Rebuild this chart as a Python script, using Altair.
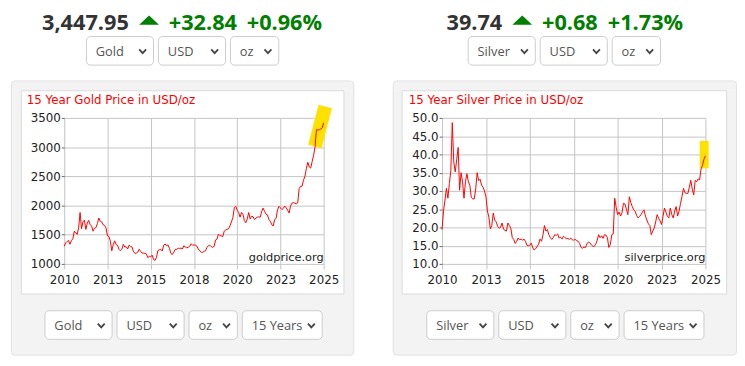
import altair as alt
import pandas as pd

# ------------------------------------------------------------------ data
START_YEAR = 2010
MONTHS_PER_YEAR = 12

# monthly gold price, USD/oz
gold_prices = [
    1300, 1360, 1385, 1400,
    1335, 1400, 1430, 1560, 1530, 1505, 1620, 1880, 1600, 1720, 1750, 1590,
    1700, 1745, 1670, 1650, 1560, 1610, 1620, 1690, 1785, 1730, 1720, 1670,
    1660, 1615, 1480, 1470, 1390, 1225, 1330, 1395, 1330, 1320, 1250, 1225,
    1250, 1335, 1290, 1295, 1255, 1320, 1300, 1290, 1215, 1180, 1185, 1200,
    1250, 1215, 1185, 1185, 1180, 1170, 1107, 1130, 1120, 1150, 1075, 1060,
    1110, 1230, 1240, 1250, 1220, 1320, 1340, 1310, 1325, 1265, 1180, 1160,
    1200, 1250, 1245, 1270, 1265, 1270, 1255, 1310, 1290, 1275, 1285, 1300,
    1345, 1320, 1325, 1320, 1305, 1255, 1225, 1200, 1195, 1215, 1225, 1280,
    1310, 1320, 1295, 1285, 1300, 1410, 1425, 1510, 1485, 1480, 1465, 1560,
    1580, 1590, 1600, 1650, 1720, 1790, 1960, 1985, 1920, 1880, 1800, 1880,
    1850, 1740, 1705, 1770, 1880, 1770, 1815, 1810, 1760, 1785, 1800, 1805,
    1800, 1900, 1955, 1900, 1850, 1840, 1760, 1730, 1670, 1650, 1760, 1780,
    1930, 1985, 1960, 1930, 1950, 1990, 1960, 1920, 1870, 1990, 2040, 2050,
    2040, 2030, 2045, 2290, 2330, 2330, 2433, 2500, 2630, 2740, 2660, 2640,
    2750, 2860, 3000, 3300, 3290, 3300, 3310, 3330, 3416,
]

# monthly silver price, USD/oz
silver_prices = [
    19.4, 24.5, 27.5, 30.7,
    28.0, 32.0, 35.5, 48.7, 38.0, 35.2, 38.5, 41.9, 30.2, 35.0, 32.5, 28.0,
    32.5, 34.7, 32.5, 31.5, 28.2, 27.8, 27.8, 30.5, 35.0, 32.8, 33.2, 31.6,
    31.0, 30.0, 28.4, 24.5, 22.8, 19.6, 20.5, 23.9, 22.0, 21.5, 20.3, 19.8,
    20.0, 21.2, 19.5, 19.2, 19.0, 21.2, 20.5, 19.8, 17.2, 16.7, 15.6, 16.2,
    17.1, 16.6, 16.8, 16.5, 16.8, 16.2, 15.1, 15.0, 15.1, 15.7, 14.4, 13.8,
    14.2, 14.8, 15.4, 16.8, 16.2, 18.0, 20.5, 19.0, 19.4, 18.0, 17.2, 16.7,
    17.2, 18.0, 17.8, 18.2, 17.1, 17.3, 16.8, 17.6, 17.2, 16.9, 17.0, 16.7,
    17.1, 16.6, 16.5, 16.7, 16.4, 16.2, 15.6, 14.5, 14.3, 14.6, 14.5, 15.5,
    16.0, 15.8, 15.2, 14.9, 14.8, 15.4, 16.4, 18.0, 17.2, 17.7, 17.0, 18.0,
    17.9, 17.2, 14.5, 15.3, 18.0, 18.2, 28.0, 25.5, 23.5, 24.2, 23.1, 24.0,
    26.6, 26.4, 25.0, 23.5, 28.4, 26.8, 25.7, 24.8, 24.4, 23.2, 22.6, 23.0,
    23.5, 24.2, 24.8, 23.1, 22.0, 21.0, 20.5, 18.0, 19.0, 19.8, 21.5, 23.5,
    22.5, 21.8, 20.8, 23.0, 25.3, 24.2, 23.0, 22.6, 25.3, 23.5, 22.6, 24.5,
    25.7, 23.1, 24.5, 26.6, 28.5, 30.7, 29.5, 29.3, 29.3, 31.0, 32.9, 30.5,
    28.9, 32.9, 32.5, 33.3, 33.0, 36.0, 37.0, 38.7, 39.6,
]

# highlighted latest stretch
gold_highlight_years = [2024.59, 2024.99]
gold_highlight_prices = [3124, 3580]
silver_highlight_years = [2024.93, 2024.93]
silver_highlight_prices = [37.4, 42.5]

year_ticks = [2010, 2012.5, 2015, 2017.5, 2020, 2022.5, 2025]
gold_ticks = [1000, 1500, 2000, 2500, 3000, 3500]
silver_ticks = [10, 15, 20, 25, 30, 35, 40, 45, 50]

gold_header = ["3,447.95", "+32.84", "+0.96%"]
silver_header = ["39.74", "+0.68", "+1.73%"]
gold_top_selectors = ["Gold", "USD", "oz"]
gold_bottom_selectors = ["Gold", "USD", "oz", "15 Years"]
silver_top_selectors = ["Silver", "USD", "oz"]
silver_bottom_selectors = ["Silver", "USD", "oz", "15 Years"]
gold_title = "15 Year Gold Price in USD/oz"
silver_title = "15 Year Silver Price in USD/oz"
gold_watermark = "goldprice.org"
silver_watermark = "silverprice.org"

# ------------------------------------------------------------------ layout / style
PANEL_FILL = "#f3f3f3"
PANEL_STROKE = "#e2e2e2"
INNER_STROKE = "#dadada"
GRID = "#c4c4c4"
GREEN = "#008000"
DARK = "#333333"
SEL_TEXT = "#555555"
HILITE = "#ffe100"
CHART_FONT = "DejaVu Sans"
PAGE_FONT = "Open Sans"
HEADER_SIZE = 22

gold_layout = dict(
    width=263, height=148,
    panel=(-53.5, 293.5, -37.5, 240.5),
    inner=(-43.5, 283.5, -27.5, 178.5),
    title_x=-38,
    header_x=(-22.5, 86, 106, 185),
    top_boxes=[(22.5, 90.5), (95.5, 163.5), (168.5, 217.5)],
    bottom_boxes=[(-19.5, 48.5), (53.5, 121.5), (126.5, 175.5), (180.5, 261.5)],
    hl_width=14,
    anchor=(-57, -109),
)
silver_layout = dict(
    width=267, height=148,
    panel=(-49.5, 298.5, -37.5, 240.5),
    inner=(-40.5, 288.5, -27.5, 178.5),
    title_x=-33.7,
    header_x=(4.5, 81.3, 101.3, 168),
    top_boxes=[(26.5, 94.5), (99.5, 167.5), (172.5, 221.5)],
    bottom_boxes=[(-15.5, 52.5), (57.5, 125.5), (130.5, 179.5), (184.5, 265.5)],
    hl_width=9,
    anchor=None,
)
HEADER_BASE = -89.3
TRI_Y = -99
TOP_BOX_Y = (-82.5, -53.5)
BOTTOM_BOX_Y = (195.5, 224.5)
TITLE_BASE = -14
WATERMARK_BASE = 144.7
PANEL_GAP = 120

ONE = alt.Data(values=[{"k": 0}])


def rect(x0, x1, y0, y1, **kw):
    return alt.Chart(ONE).mark_rect(**kw).encode(
        x=alt.value(x0), x2=alt.value(x1), y=alt.value(y0), y2=alt.value(y1)
    )


def text(label, x, y, **kw):
    return alt.Chart(ONE).mark_text(text=label, baseline="alphabetic", **kw).encode(
        x=alt.value(x), y=alt.value(y)
    )


def symbol(path, x, y, size, **kw):
    return alt.Chart(ONE).mark_point(shape=path, size=size, opacity=1, **kw).encode(
        x=alt.value(x), y=alt.value(y)
    )


def selector(label, x0, x1, y0, y1):
    cy = (y0 + y1) / 2
    return [
        rect(x0, x1, y0, y1, fill="white", stroke="#cccccc", strokeWidth=1, cornerRadius=4),
        text(label, x0 + 9.5, cy + 5, align="left",
             font=PAGE_FONT, fontSize=13, color=SEL_TEXT),
        symbol("M -1 -0.55 L 0 0.55 L 1 -0.55", x1 - 11, cy + 0.5, 49,
               filled=False, stroke="#444444", strokeWidth=1.8),
    ]


def panel(prices, hl_years, hl_prices, y_domain, y_ticks, y_fmt, header,
          top_sel, bottom_sel, title, watermark, L):
    W, H = L["width"], L["height"]
    ox0, ox1, oy0, oy1 = L["panel"]
    ix0, ix1, iy0, iy1 = L["inner"]
    layers = []
    if L["anchor"] is not None:
        ax, ay = L["anchor"]
        layers.append(rect(ax, ax + 1, ay, ay + 1, fill="white", opacity=0))
    for a, b, c, d in [(ox0, ox1, oy0, iy0), (ox0, ox1, iy1, oy1),
                       (ox0, ix0, iy0, iy1), (ix1, ox1, iy0, iy1)]:
        layers.append(rect(a, b, c, d, fill=PANEL_FILL))
    layers.append(rect(ox0, ox1, oy0, oy1, fill="transparent", stroke=PANEL_STROKE,
                       strokeWidth=1, cornerRadius=4))
    layers.append(rect(ix0, ix1, iy0, iy1, fill="transparent", stroke=INNER_STROKE,
                       strokeWidth=1))
    hx = L["header_x"]
    layers.append(text(header[0], hx[0], HEADER_BASE, align="left", font=PAGE_FONT,
                       fontSize=HEADER_SIZE, fontWeight="bold", color=DARK))
    layers.append(symbol("M -1 0.47 L 0 -0.47 L 1 0.47 Z", hx[1], TRI_Y, 400,
                         filled=True, color=GREEN))
    layers.append(text(header[1], hx[2], HEADER_BASE, align="left", font=PAGE_FONT,
                       fontSize=HEADER_SIZE, fontWeight="bold", color=GREEN))
    layers.append(text(header[2], hx[3], HEADER_BASE, align="left", font=PAGE_FONT,
                       fontSize=HEADER_SIZE, fontWeight="bold", color=GREEN))
    for lab, (a, b) in zip(top_sel, L["top_boxes"]):
        layers += selector(lab, a, b, *TOP_BOX_Y)
    for lab, (a, b) in zip(bottom_sel, L["bottom_boxes"]):
        layers += selector(lab, a, b, *BOTTOM_BOX_Y)
    layers.append(text(title, L["title_x"], TITLE_BASE, align="left", font=CHART_FONT,
                       fontSize=12, color="#ff0000"))
    layers.append(text(watermark, W, WATERMARK_BASE, align="right", font=CHART_FONT,
                       fontSize=11.5, color="#222222"))

    x_scale = alt.Scale(domain=[year_ticks[0], year_ticks[-1]], nice=False, zero=False)
    y_scale = alt.Scale(domain=y_domain, nice=False, zero=False)
    x_axis = alt.Axis(values=year_ticks, labelExpr="format(round(datum.value), 'd')",
                      grid=True, gridColor=GRID, domain=False, tickColor=GRID,
                      tickSize=5, labelFont=CHART_FONT, labelFontSize=12,
                      labelColor="#222222", labelPadding=6, title=None,
                      labelFlush=False, labelOverlap=False)
    y_axis = alt.Axis(values=y_ticks, format=y_fmt, grid=True, gridColor=GRID,
                      domain=False, tickColor="#666666", tickSize=3,
                      labelFont=CHART_FONT, labelFontSize=12, labelColor="#222222",
                      labelPadding=1, title=None, labelFlush=False, labelOverlap=False)

    hl = pd.DataFrame({"year": hl_years, "price": hl_prices})
    layers.append(alt.Chart(hl).mark_line(color=HILITE, strokeWidth=L["hl_width"],
                                          strokeCap="square").encode(
        x=alt.X("year:Q", scale=x_scale, axis=x_axis),
        y=alt.Y("price:Q", scale=y_scale, axis=y_axis)))

    df = pd.DataFrame({
        "year": [START_YEAR + i / MONTHS_PER_YEAR for i in range(len(prices))],
        "price": prices,
    })
    layers.append(alt.Chart(df).mark_line(color="#ff0000", strokeWidth=1).encode(
        x=alt.X("year:Q", scale=x_scale, axis=x_axis),
        y=alt.Y("price:Q", scale=y_scale, axis=y_axis)))

    return alt.layer(*layers).properties(width=W, height=H)


gold = panel(gold_prices, gold_highlight_years, gold_highlight_prices,
             [gold_ticks[0], gold_ticks[-1]], gold_ticks, "d", gold_header,
             gold_top_selectors, gold_bottom_selectors, gold_title, gold_watermark,
             gold_layout)
silver = panel(silver_prices, silver_highlight_years, silver_highlight_prices,
               [silver_ticks[0], silver_ticks[-1]], silver_ticks, ".1f", silver_header,
               silver_top_selectors, silver_bottom_selectors, silver_title,
               silver_watermark, silver_layout)

chart = alt.hconcat(gold, silver, spacing=PANEL_GAP, bounds="flush", padding=0,
                    background="white").configure_view(strokeWidth=0)

chart.save("out.html", embed_options={"renderer": "svg", "actions": False})
